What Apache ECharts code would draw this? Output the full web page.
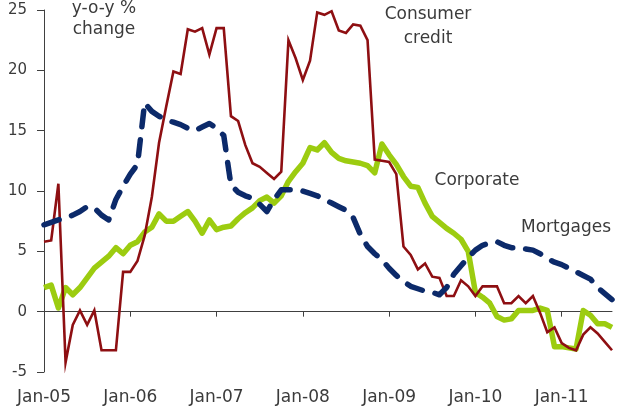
<!DOCTYPE html>
<html>
<head>
<meta charset="utf-8">
<script src="https://cdn.jsdelivr.net/npm/echarts@6/dist/echarts.min.js"></script>
<style>
  html, body { margin: 0; padding: 0; background: #ffffff; }
  #chart { width: 619px; height: 408px; }
</style>
</head>
<body>
<div id="chart"></div>
<script>
// Year-on-year growth of lending, monthly, Jan-05 to Aug-11 (%)
const monthNames = ['Jan', 'Feb', 'Mar', 'Apr', 'May', 'Jun', 'Jul', 'Aug', 'Sep', 'Oct', 'Nov', 'Dec'];
const years = ['05', '06', '07', '08', '09', '10', '11'];
const monthCount = 80;

const consumerCredit = [
  5.8, 5.9, 10.6, -4.2, -1.1, 0.1, -1.1, 0.1, -3.2, -3.2,
  -3.2, 3.3, 3.3, 4.2, 6.3, 9.5, 14.0, 17.0, 19.9, 19.7,
  23.4, 23.2, 23.5, 21.3, 23.5, 23.5, 16.2, 15.8, 13.8, 12.3,
  12.0, 11.5, 11.0, 11.6, 22.5, 21.0, 19.2, 20.8, 24.8, 24.6,
  24.9, 23.3, 23.1, 23.8, 23.7, 22.5, 12.6, 12.5, 12.4, 11.4,
  5.4, 4.7, 3.5, 4.0, 2.9, 2.8, 1.3, 1.3, 2.6, 2.1,
  1.3, 2.1, 2.1, 2.1, 0.7, 0.7, 1.3, 0.7, 1.3, -0.1,
  -1.7, -1.3, -2.6, -3.0, -3.2, -1.9, -1.3, -1.8, -2.5, -3.2
];

const corporate = [
  2.0, 2.2, 0.3, 2.0, 1.4, 2.0, 2.8, 3.6, 4.1, 4.6,
  5.3, 4.8, 5.5, 5.8, 6.6, 7.0, 8.1, 7.5, 7.5, 7.9,
  8.3, 7.5, 6.5, 7.6, 6.8, 7.0, 7.1, 7.7, 8.2, 8.6,
  9.2, 9.5, 9.0, 9.6, 10.8, 11.6, 12.3, 13.6, 13.4, 14.0,
  13.2, 12.7, 12.5, 12.4, 12.3, 12.1, 11.5, 13.9, 13.0, 12.2,
  11.2, 10.4, 10.3, 9.0, 7.9, 7.4, 6.9, 6.5, 6.0, 5.0,
  1.6, 1.2, 0.7, -0.4, -0.7, -0.6, 0.1, 0.1, 0.1, 0.3,
  0.1, -2.9, -2.9, -3.0, -3.1, 0.1, -0.3, -1.0, -1.0, -1.3
];

const mortgages = [
  7.2, 7.4, 7.6, 7.8, 8.0, 8.3, 8.7, 8.6, 8.0, 7.6,
  9.3, 10.4, 11.4, 12.2, 17.3, 16.6, 16.2, 15.9, 15.7, 15.5,
  15.2, 15.0, 15.3, 15.6, 15.2, 14.6, 10.5, 9.9, 9.6, 9.4,
  8.9, 8.3, 9.3, 10.1, 10.1, 10.1, 10.0, 9.8, 9.6, 9.3,
  9.0, 8.7, 8.4, 7.8, 6.4, 5.4, 4.8, 4.3, 3.6, 3.0,
  2.5, 2.1, 1.9, 1.7, 1.6, 1.4, 2.0, 3.1, 3.8, 4.5,
  5.1, 5.5, 5.7, 5.8, 5.5, 5.3, 5.3, 5.2, 5.1, 4.8,
  4.4, 4.1, 3.9, 3.6, 3.3, 3.0, 2.7, 2.0, 1.5, 1.0
];

// Month labels such as "Jan-05"; only each January is shown on the axis.
const months = [];
for (const y of years) {
  for (const m of monthNames) {
    if (months.length < monthCount) months.push(m + '-' + y);
  }
}

const FONT = '"DejaVu Sans", sans-serif';
const TEXT = '#3b3b3b';
const AXIS = '#404040';

const chart = echarts.init(document.getElementById('chart'), null, { renderer: 'canvas' });

chart.setOption({
  animation: false,
  backgroundColor: '#ffffff',
  grid: { left: 44, right: 7, top: 10, bottom: 36, containLabel: false, outerBoundsMode: 'none' },
  xAxis: [
    {
      // date labels along the bottom of the plot
      type: 'category',
      data: months,
      boundaryGap: false,
      position: 'bottom',
      axisLine: { show: false, onZero: false },
      axisTick: { show: false },
      axisLabel: {
        interval: 11,
        margin: 17,
        fontSize: 17,
        fontFamily: FONT,
        color: TEXT
      },
      splitLine: { show: false }
    },
    {
      // zero line with yearly ticks
      type: 'category',
      data: months,
      boundaryGap: false,
      position: 'bottom',
      axisLine: { show: true, onZero: true, lineStyle: { color: AXIS, width: 1 } },
      axisTick: { show: true, interval: 11, length: 5, lineStyle: { color: AXIS } },
      axisLabel: { show: false },
      splitLine: { show: false }
    }
  ],
  yAxis: {
    type: 'value',
    min: -5,
    max: 25,
    interval: 5,
    axisLine: { show: true, lineStyle: { color: AXIS, width: 1 } },
    axisTick: { show: true, length: 7, lineStyle: { color: AXIS } },
    axisLabel: { fontSize: 15, margin: 17, fontFamily: FONT, color: TEXT },
    splitLine: { show: false }
  },
  series: [
    {
      name: 'Corporate',
      type: 'line',
      xAxisIndex: 0,
      data: corporate,
      symbol: 'none',
      z: 2,
      lineStyle: { color: '#9CCC10', width: 5.5, join: 'round' }
    },
    {
      name: 'Consumer credit',
      type: 'line',
      xAxisIndex: 0,
      data: consumerCredit,
      symbol: 'none',
      z: 3,
      lineStyle: { color: '#8E0F12', width: 2.6, join: 'miter' }
    },
    {
      name: 'Mortgages',
      type: 'line',
      xAxisIndex: 0,
      data: mortgages,
      symbol: 'none',
      z: 4,
      lineStyle: { color: '#0C2A6A', width: 5.5, type: [16, 13], cap: 'round', join: 'round' }
    }
  ],
  graphic: [
    { type: 'text', x: 104, y: 9, style: { text: 'y-o-y %', font: '17px ' + FONT, fill: TEXT, textAlign: 'center', textVerticalAlign: 'middle' } },
    { type: 'text', x: 104, y: 30, style: { text: 'change', font: '17px ' + FONT, fill: TEXT, textAlign: 'center', textVerticalAlign: 'middle' } },
    { type: 'text', x: 428, y: 15, style: { text: 'Consumer', font: '17px ' + FONT, fill: TEXT, textAlign: 'center', textVerticalAlign: 'middle' } },
    { type: 'text', x: 428, y: 39, style: { text: 'credit', font: '17px ' + FONT, fill: TEXT, textAlign: 'center', textVerticalAlign: 'middle' } },
    { type: 'text', x: 477, y: 181, style: { text: 'Corporate', font: '17px ' + FONT, fill: TEXT, textAlign: 'center', textVerticalAlign: 'middle' } },
    { type: 'text', x: 521, y: 228, style: { text: 'Mortgages', font: '17px ' + FONT, fill: TEXT, textAlign: 'left', textVerticalAlign: 'middle' } }
  ]
});
</script>
</body>
</html>
